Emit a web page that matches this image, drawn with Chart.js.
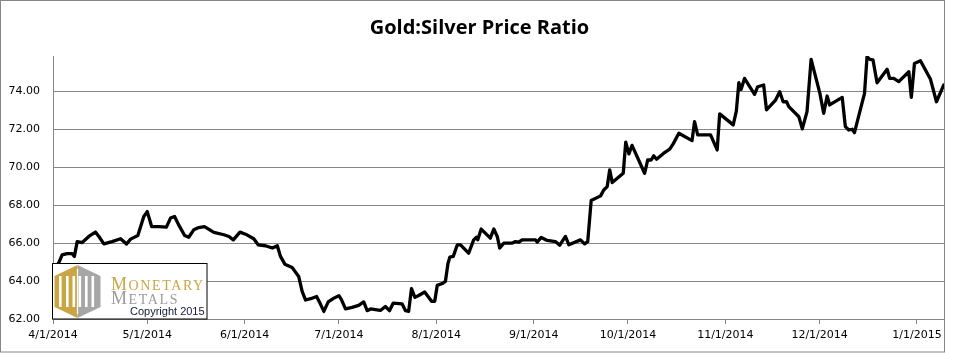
<!DOCTYPE html>
<html lang="en">
<head>
<meta charset="UTF-8">
<title>Gold:Silver Price Ratio</title>
<script src="https://cdn.jsdelivr.net/npm/chart.js@4.4.1/dist/chart.umd.min.js"></script>
<style>
  body { margin: 0; background: #fff; }
  .box { position: relative; width: 959px; height: 353px; }
</style>
</head>
<body>
<div class="box"><canvas id="ratioChart"></canvas></div>

<script>
// days counted from 4/1/2014
const days = [0, 1.8, 2.9, 4.5, 6.1, 6.8, 7.7, 9.3, 11.4, 13.5, 14.6, 16.2, 18.8, 21.5, 23.4, 24.7, 27.0, 28.9, 30.0,
  31.4, 33.7, 36.1, 37.4, 38.7, 40.0, 41.9, 43.2, 44.8, 46.4, 48.2, 51.2, 54.4, 56.0, 57.4, 59.5, 61.3, 63.9, 65.3,
  67.6, 69.8, 71.4, 72.4, 73.8, 76.1, 78.2, 79.3, 80.4, 82.0, 83.9, 84.8, 86.2, 87.6, 89.4, 91.0, 91.8, 93.1, 95.2,
  97.3, 98.9, 100.0, 101.1, 102.6, 104.2, 105.8, 107.1, 108.3, 111.1, 112.2, 113.2, 114.1, 115.2, 116.4, 118.3,
  120.5, 121.5, 122.3, 123.9, 124.9, 125.7, 126.3, 127.4, 128.7, 129.7, 132.3, 133.9, 134.8, 135.2, 136.3, 139.2,
  140.3, 141.4, 142.2, 143.5, 146.2, 147.2, 148.3, 149.3, 153.6, 154.1, 155.4, 157.3, 159.9, 161.3, 163.1, 164.2,
  167.9, 169.2, 170.2, 171.3, 174.3, 175.3, 176.4, 177.2, 178.0, 181.5, 182.3, 183.3, 184.3, 188.3, 189.3, 190.4,
  191.2, 192.1, 194.4, 196.3, 197.4, 199.2, 203.4, 204.2, 205.2, 209.3, 211.4, 212.2, 216.5, 217.5, 218.3, 219.0,
  220.1, 223.3, 224.3, 226.2, 227.1, 230.0, 231.3, 232.4, 233.5, 234.2, 237.4, 238.5, 240.0, 241.3, 244.1, 245.3,
  246.4, 247.2, 251.2, 252.2, 253.3, 254.4, 255.1, 258.3, 259.1, 260.0, 261.0, 262.3, 265.5, 266.3, 267.6, 269.2,
  272.4, 273.2, 274.2, 276.1, 279.3, 281.2, 283.5];

const ratio = [64.55, 64.95, 65.38, 65.45, 65.44, 65.3, 66.08, 66.03, 66.35, 66.58, 66.35, 65.96, 66.08, 66.23, 65.95, 66.21, 66.4, 67.4, 67.66,
  66.87, 66.87, 66.84, 67.32, 67.4, 66.96, 66.4, 66.31, 66.7, 66.82, 66.87, 66.56, 66.44, 66.35, 66.17, 66.58, 66.47, 66.23, 65.91,
  65.86, 65.74, 65.86, 65.3, 64.89, 64.72, 64.24, 63.45, 63.0, 63.07, 63.19, 62.9, 62.4, 62.9, 63.1, 63.23, 63.02, 62.53, 62.61,
  62.72, 62.9, 62.44, 62.53, 62.49, 62.45, 62.66, 62.44, 62.84, 62.8, 62.44, 62.4, 63.6, 63.14, 63.24, 63.42,
  62.93, 62.93, 63.77, 63.87, 63.98, 64.91, 65.26, 65.3, 65.91, 65.91, 65.47, 66.17, 66.31, 66.17, 66.74, 66.26,
  66.74, 66.35, 65.74, 66.0, 66.0, 66.08, 66.05, 66.17, 66.17, 66.05, 66.3, 66.14, 66.08, 65.89, 66.35, 65.91,
  66.17, 65.96, 66.08, 68.24, 68.49, 68.8, 68.98, 69.86, 69.19, 69.68, 71.32, 70.7, 71.15, 69.68, 70.38, 70.38,
  70.6, 70.42, 70.74, 70.95, 71.23, 71.79, 71.4, 72.4, 71.7, 71.7, 70.91, 72.81, 72.23, 72.96, 74.45, 74.1,
  74.68, 73.84, 74.24, 74.33, 73.02, 73.54, 73.98, 73.45, 73.45, 73.19, 72.66, 72.02, 72.93, 75.68, 73.89, 72.84,
  73.75, 73.28, 73.68, 72.14, 71.96, 72.0, 71.82, 73.89, 75.82, 75.68, 75.65, 74.45, 75.16, 74.68, 74.68, 74.51,
  75.03, 73.68, 75.47, 75.61, 74.63, 73.45, 74.33];

const tickDays = [0, 30, 61, 91, 122, 153, 183, 214, 244, 275];
const tickLabels = ['4/1/2014', '5/1/2014', '6/1/2014', '7/1/2014', '8/1/2014', '9/1/2014', '10/1/2014', '11/1/2014', '12/1/2014', '1/1/2015'];
const yTicks = [62, 64, 66, 68, 70, 72, 74];

const gridGray = '#868686';

// white page, outer frame and the Monetary Metals badge
const frame = {
  id: 'frame',
  beforeDraw(chart) {
    const c = chart.ctx;
    c.save();
    c.fillStyle = '#fff';
    c.fillRect(0, 0, chart.width, chart.height);
    c.restore();
  },
  afterDatasetsDraw(chart) {
    const c = chart.ctx;
    const a = chart.chartArea;
    const x0 = a.left, y1 = a.bottom;
    const bx = x0, by = y1 - 56, bw = 154, bh = 56;
    c.save();
    c.fillStyle = '#fff';
    c.fillRect(bx, by, bw, bh);
    c.strokeStyle = '#000';
    c.lineWidth = 1;
    c.strokeRect(bx - 0.5, by + 0.5, bw + 0.5, bh - 0.5);

    // hexagon, gold half and grey half
    const cx = bx + 24.5, top = by + 2, bot = by + 55, hl = bx + 1.5, hr = bx + 47.5;
    c.beginPath();
    c.moveTo(cx, top); c.lineTo(hl, top + 11); c.lineTo(hl, bot - 11); c.lineTo(cx, bot); c.closePath();
    c.fillStyle = '#c9a544'; c.fill();
    c.beginPath();
    c.moveTo(cx, top); c.lineTo(hr, top + 11); c.lineTo(hr, bot - 11); c.lineTo(cx, bot); c.closePath();
    c.fillStyle = '#a6a6a6'; c.fill();
    c.fillStyle = '#fff';
    [6, 13, 19.5, 25.5, 32, 38.5].forEach(function (dx) {
      c.fillRect(bx + dx, top + 11, 2.6, bot - top - 22);
    });
    c.fillRect(cx - 0.6, top + 4, 1.2, bot - top - 8);

    // words
    c.textBaseline = 'alphabetic';
    c.letterSpacing = '1.6px';
    c.fillStyle = '#c9a544';
    c.font = '18px "Liberation Serif", serif';
    c.fillText('M', bx + 58, by + 27);
    let w = c.measureText('M').width;
    c.font = '14px "Liberation Serif", serif';
    c.fillText('ONETARY', bx + 58 + w, by + 27);
    c.fillStyle = '#9c9c9c';
    c.font = '18px "Liberation Serif", serif';
    c.fillText('M', bx + 58, by + 41);
    w = c.measureText('M').width;
    c.font = '14px "Liberation Serif", serif';
    c.fillText('ETALS', bx + 58 + w, by + 41);
    c.letterSpacing = '0px';
    c.fillStyle = '#15183a';
    c.font = '11px "Liberation Sans", Arial, sans-serif';
    c.fillText('Copyright 2015', bx + 77, by + 52);
    c.restore();
  },
  afterDraw(chart) {
    const c = chart.ctx;
    c.save();
    c.strokeStyle = gridGray;
    c.lineWidth = 1;
    c.strokeRect(0.5, 0.5, 944, 351.5);
    c.restore();
  }
};

const ctx = document.getElementById('ratioChart').getContext('2d');

const myChart = new Chart(ctx, {
  type: 'line',
  data: {
    datasets: [{
      label: 'Gold:Silver',
      data: days.map(function (d, i) { return { x: d, y: ratio[i] }; }),
      borderColor: '#000',
      borderWidth: 3.3,
      borderJoinStyle: 'round',
      borderCapStyle: 'round',
      pointRadius: 0,
      tension: 0,
      fill: false
    }]
  },
  options: {
    responsive: true,
    maintainAspectRatio: false,
    animation: false,
    layout: { padding: 0 },
    plugins: {
      legend: { display: false },
      tooltip: { enabled: false },
      title: {
        display: true,
        text: 'Gold:Silver Price Ratio',
        color: '#000',
        font: { family: '"Liberation Sans Narrow", "Open Sans", sans-serif', size: 20, weight: 'bold', lineHeight: 1.2 },
        padding: { top: 16, bottom: 16 }
      }
    },
    scales: {
      x: {
        type: 'linear',
        min: 0,
        max: 283.6,
        afterBuildTicks: function (axis) {
          axis.ticks = tickDays.map(function (v) { return { value: v }; });
        },
        afterFit: function (scale) { scale.height = 34; },
        ticks: {
          autoSkip: false,
          maxRotation: 0,
          padding: 5,
          color: '#000',
          font: { family: '"DejaVu Sans", Verdana, sans-serif', size: 11 },
          callback: function (value, index) { return tickLabels[index]; }
        },
        grid: { drawOnChartArea: false, tickLength: 5, color: gridGray },
        border: { color: gridGray }
      },
      y: {
        min: 62,
        max: 75.86,
        afterBuildTicks: function (axis) {
          axis.ticks = yTicks.map(function (v) { return { value: v }; });
        },
        afterFit: function (scale) { scale.width = 53; },
        ticks: {
          padding: 13,
          color: '#000',
          font: { family: '"DejaVu Sans", Verdana, sans-serif', size: 11 },
          callback: function (value) { return value.toFixed(2); }
        },
        grid: { color: gridGray, drawTicks: false },
        border: { color: gridGray }
      },
      pad: {
        position: 'right',
        display: true,
        afterFit: function (scale) { scale.width = 15; },
        ticks: { display: false },
        grid: { display: false },
        border: { display: false }
      }
    }
  },
  plugins: [frame]
});
</script>
</body>
</html>
